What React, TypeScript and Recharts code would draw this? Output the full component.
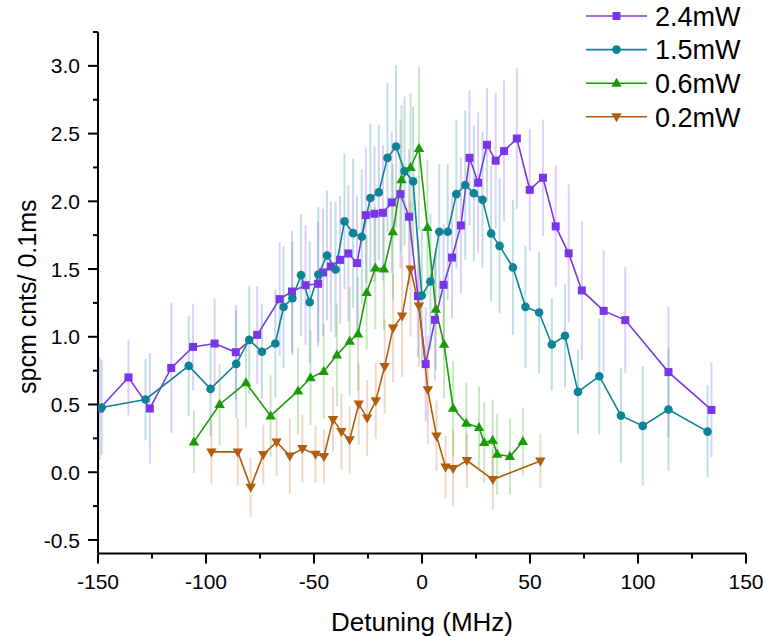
import React from 'react';
import { ComposedChart, Line, XAxis, YAxis, ErrorBar } from 'recharts';

// 2.4mW
const detuning24 = [-149.2, -135.9, -126, -116.1, -106, -96, -86.2, -76.3, -65.9, -60.2, -53.9, -48.1, -45.8, -42.2, -37.9, -34.1, -30.1, -26, -22, -18.1, -14, -10, -6, -1.9, 1.7, 6, 10, 13.9, 18, 22, 26, 30.1, 34.1, 38, 43.9, 49.9, 56, 61.9, 67.9, 74, 84.1, 94.1, 114.1, 134];
const counts24 = [0.47, 0.7, 0.47, 0.77, 0.925, 0.95, 0.886, 1.014, 1.278, 1.334, 1.381, 1.391, 1.475, 1.519, 1.568, 1.615, 1.544, 1.898, 1.908, 1.915, 1.992, 2.053, 1.886, 1.3, 0.798, 1.125, 1.383, 1.585, 1.822, 2.321, 2.137, 2.417, 2.3, 2.371, 2.464, 2.085, 2.174, 1.815, 1.616, 1.342, 1.191, 1.123, 0.739, 0.46];
const err24 = [0.38, 0.28, 0.41, 0.48, 0.32, 0.33, 0.35, 0.36, 0.42, 0.45, 0.44, 0.46, 0.47, 0.48, 0.47, 0.5, 0.5, 0.5, 0.5, 0.5, 0.52, 0.55, 0.5, 0.45, 0.42, 0.45, 0.45, 0.45, 0.5, 0.5, 0.52, 0.42, 0.5, 0.52, 0.52, 0.45, 0.43, 0.45, 0.51, 0.51, 0.45, 0.39, 0.48, 0.35];

// 1.5mW
const detuning15 = [-148.3, -128, -108, -97.9, -86, -80, -74.1, -67.9, -64.1, -60, -56, -52, -48, -44, -40, -35.9, -31.9, -27.9, -23.9, -20, -16, -12, -8.1, -4.1, -0.1, 3.9, 8, 11.9, 15.9, 20, 24, 28, 32, 35.9, 42.1, 47.9, 54.2, 60.1, 66.2, 72.2, 82.1, 92.1, 102.2, 114.1, 132.2];
const counts15 = [0.478, 0.537, 0.785, 0.615, 0.8, 0.977, 0.889, 0.95, 1.22, 1.285, 1.455, 1.255, 1.46, 1.6, 1.497, 1.852, 1.765, 1.738, 2.024, 2.066, 2.321, 2.405, 2.223, 2.147, 1.305, 1.408, 1.775, 1.775, 2.053, 2.12, 2.06, 2.011, 1.763, 1.671, 1.512, 1.221, 1.179, 0.943, 1.007, 0.593, 0.709, 0.418, 0.342, 0.463, 0.3];
const err15 = [0.35, 0.3, 0.37, 0.35, 0.4, 0.4, 0.35, 0.4, 0.45, 0.42, 0.45, 0.45, 0.5, 0.48, 0.5, 0.5, 0.55, 0.5, 0.55, 0.5, 0.55, 0.6, 0.55, 0.55, 0.5, 0.5, 0.5, 0.5, 0.55, 0.55, 0.5, 0.5, 0.5, 0.5, 0.5, 0.45, 0.45, 0.34, 0.38, 0.31, 0.43, 0.35, 0.44, 0.45, 0.34];

// 0.6mW
const detuning06 = [-105.6, -93.7, -81.5, -70.1, -57.4, -51.6, -45.5, -39.4, -33.5, -29.6, -25.6, -21.6, -17.6, -13.5, -9.5, -5.3, -1.4, 2.5, 6.4, 10.2, 14.4, 20.5, 26.4, 28.8, 32.7, 34.8, 40.7, 46.7];
const counts06 = [0.224, 0.5, 0.66, 0.416, 0.6, 0.697, 0.744, 0.866, 0.967, 1.02, 1.327, 1.507, 1.5, 1.775, 2.159, 2.25, 2.39, 1.807, 1.204, 0.945, 0.473, 0.362, 0.33, 0.219, 0.236, 0.133, 0.116, 0.227];
const err06 = [0.23, 0.3, 0.33, 0.3, 0.32, 0.35, 0.35, 0.38, 0.4, 0.42, 0.42, 0.45, 0.45, 0.5, 0.55, 0.55, 0.6, 0.5, 0.45, 0.4, 0.35, 0.3, 0.3, 0.3, 0.3, 0.3, 0.28, 0.25];

// 0.2mW
const detuning02 = [-97.5, -85.3, -79.3, -73.5, -67.3, -61.2, -55.4, -49.3, -45.4, -41.2, -37.3, -33.5, -29.3, -25.4, -21.4, -17.3, -13.4, -9.2, -5.3, -1.4, 2.7, 6.7, 10.9, 14.4, 20.8, 32.8, 54.8];
const counts02 = [0.15, 0.15, -0.11, 0.13, 0.224, 0.12, 0.175, 0.133, 0.116, 0.39, 0.3, 0.239, 0.504, 0.4, 0.527, 0.78, 1.064, 1.154, 1.5, 1.228, 0.608, 0.268, 0.039, 0.027, 0.086, -0.054, 0.083];
const err02 = [0.24, 0.25, 0.22, 0.22, 0.25, 0.28, 0.25, 0.21, 0.2, 0.24, 0.28, 0.25, 0.3, 0.28, 0.28, 0.35, 0.4, 0.45, 0.5, 0.45, 0.4, 0.26, 0.23, 0.28, 0.2, 0.22, 0.2];

const xTicks = [-150, -125, -100, -75, -50, -25, 0, 25, 50, 75, 100, 125, 150];
const yTicks = [-0.5, -0.25, 0, 0.25, 0.5, 0.75, 1, 1.25, 1.5, 1.75, 2, 2.25, 2.5, 2.75, 3, 3.25];

const FONT = '"Liberation Sans", Arial, sans-serif';

const build = (xs: number[], ys: number[], es: number[]) =>
  xs.map((x, i) => ({ x, y: ys[i], err: es[i] }));

const series = [
  { name: '2.4mW', color: '#7B35E8', bar: 'rgba(140,80,240,0.28)', shape: 'square', data: build(detuning24, counts24, err24) },
  { name: '1.5mW', color: '#0D8397', bar: 'rgba(40,150,170,0.3)', shape: 'circle', data: build(detuning15, counts15, err15) },
  { name: '0.6mW', color: '#199B07', bar: 'rgba(60,170,40,0.28)', shape: 'up', data: build(detuning06, counts06, err06) },
  { name: '0.2mW', color: '#B25C0E', bar: 'rgba(190,120,50,0.28)', shape: 'down', data: build(detuning02, counts02, err02) },
];

function Marker({ shape, cx, cy, color }: { shape: string; cx: number; cy: number; color: string }) {
  if (cx == null || cy == null) return null;
  if (shape === 'square') return <rect x={cx - 4} y={cy - 4} width={8} height={8} fill={color} />;
  if (shape === 'circle') return <circle cx={cx} cy={cy} r={4.3} fill={color} />;
  if (shape === 'up')
    return <polygon points={`${cx},${cy - 5.5} ${cx + 5.2},${cy + 3.5} ${cx - 5.2},${cy + 3.5}`} fill={color} />;
  return <polygon points={`${cx},${cy + 5.5} ${cx + 5.2},${cy - 3.5} ${cx - 5.2},${cy - 3.5}`} fill={color} />;
}

const XTick = (props: any) => {
  const { x, y, payload } = props;
  const major = payload.value % 50 === 0;
  return (
    <g>
      <line x1={x} x2={x} y1={y} y2={y + (major ? 10 : 5)} stroke="#000" strokeWidth={2} />
      {major && (
        <text x={x} y={y + 35} textAnchor="middle" fontSize={21} fontFamily={FONT} fill="#000">
          {payload.value}
        </text>
      )}
    </g>
  );
};

const YTick = (props: any) => {
  const { x, y, payload } = props;
  const v = payload.value;
  const major = Math.abs(v * 2 - Math.round(v * 2)) < 1e-6 && v <= 3;
  return (
    <g>
      <line x1={x - (major ? 10 : 5)} x2={x} y1={y} y2={y} stroke="#000" strokeWidth={2} />
      {major && (
        <text x={x - 18} y={y} dy="0.36em" textAnchor="end" fontSize={21} fontFamily={FONT} fill="#000">
          {v.toFixed(1)}
        </text>
      )}
    </g>
  );
};

const XTitle = (props: any) => {
  const { x, y, width } = props.viewBox;
  return (
    <text x={x + width / 2} y={y + 77} textAnchor="middle" fontSize={26} fontFamily={FONT} fill="#000">
      Detuning (MHz)
    </text>
  );
};

const YTitle = (props: any) => {
  const { y, height } = props.viewBox;
  const cy = y + height / 2 + 4;
  return (
    <text x={27} y={cy} dy="0.36em" textAnchor="middle" fontSize={25} fontFamily={FONT} fill="#000" transform={`rotate(-90, 27, ${cy})`}>
      spcm cnts/ 0.1ms
    </text>
  );
};

const LegendBox = () => (
  <svg width={767} height={140} style={{ position: 'absolute', left: 0, top: 0, pointerEvents: 'none' }}>
    {series.map((s, i) => {
      const cy = 16 + i * 33.6;
      return (
        <g key={s.name}>
          <line x1={586} x2={647} y1={cy} y2={cy} stroke={s.color} strokeWidth={1.6} />
          <Marker shape={s.shape} cx={616.5} cy={cy} color={s.color} />
          <text x={655} y={cy} dy="0.36em" fontSize={27} fontFamily={FONT} fill="#000">
            {s.name}
          </text>
        </g>
      );
    })}
  </svg>
);

export default function App() {
  return (
    <div style={{ position: 'absolute', left: 0, top: 0, width: 767, height: 637, background: '#fff' }}>
      <ComposedChart width={767} height={637} margin={{ top: 32, right: 21, bottom: 0, left: 0 }}>
        <XAxis
          type="number"
          dataKey="x"
          domain={[-150, 150]}
          ticks={xTicks}
          interval={0}
          allowDataOverflow
          tickSize={0}
          tickMargin={0}
          tickLine={false}
          tick={<XTick />}
          axisLine={{ stroke: '#000', strokeWidth: 2 }}
          height={83.5}
          label={<XTitle />}
        />
        <YAxis
          type="number"
          domain={[-0.6, 3.25]}
          ticks={yTicks}
          interval={0}
          allowDataOverflow
          tickSize={0}
          tickMargin={0}
          tickLine={false}
          tick={<YTick />}
          axisLine={{ stroke: '#000', strokeWidth: 2 }}
          width={98}
          label={<YTitle />}
        />
        {series.map((s) => (
          <Line
            key={s.name}
            data={s.data}
            dataKey="y"
            type="linear"
            stroke={s.color}
            strokeWidth={1.6}
            isAnimationActive={false}
            dot={(p: any) => <Marker key={`${s.name}-${p.index}`} shape={s.shape} cx={p.cx} cy={p.cy} color={s.color} />}
            activeDot={false}
          >
            <ErrorBar dataKey="err" direction="y" width={0} stroke={s.bar} strokeWidth={2} isAnimationActive={false} />
          </Line>
        ))}
      </ComposedChart>
      <LegendBox />
    </div>
  );
}
